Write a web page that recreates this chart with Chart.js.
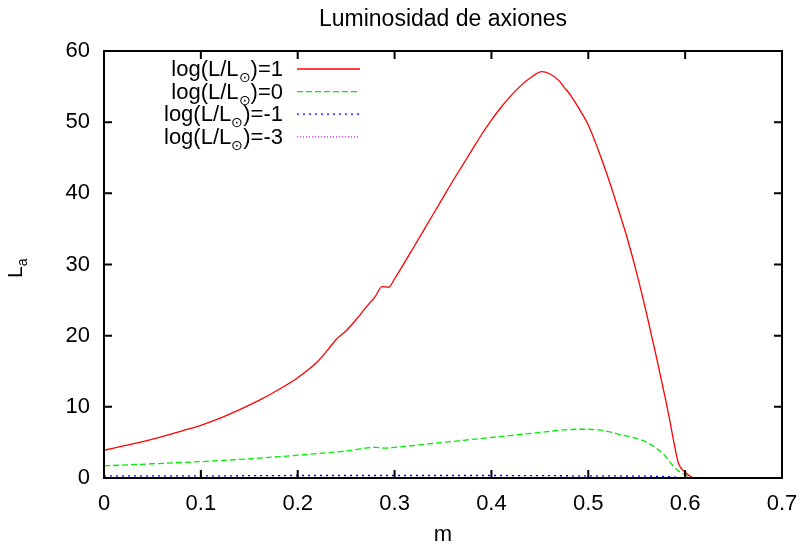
<!DOCTYPE html>
<html>
<head>
<meta charset="utf-8">
<script src="https://cdn.jsdelivr.net/npm/chart.js@4/dist/chart.umd.min.js"></script>
<style>
  body { margin: 0; background: #fff; }
  canvas { display: block; }
</style>
</head>
<body>
<canvas id="lumChart" width="803" height="546"></canvas>
<script>
// masa (m) y luminosidad de axiones (L_a) para cada log(L/Lsol)
const mLog1 = [0.00, 0.02, 0.04, 0.06, 0.08, 0.10, 0.12, 0.14, 0.16, 0.18, 0.20, 0.22, 0.231, 0.24, 0.245, 0.25, 0.26, 0.27, 0.28, 0.287, 0.294, 0.30, 0.31, 0.32, 0.33, 0.34, 0.35, 0.36, 0.37, 0.38, 0.39, 0.40, 0.41, 0.42, 0.43, 0.44, 0.452, 0.46, 0.47, 0.475, 0.48, 0.484, 0.49, 0.50, 0.51, 0.52, 0.53, 0.54, 0.55, 0.56, 0.57, 0.58, 0.584, 0.588, 0.593, 0.600, 0.607, 0.61];
const laLog1 = [3.9, 4.5, 5.1, 5.8, 6.6, 7.4, 8.4, 9.6, 10.9, 12.4, 14.1, 16.3, 18.0, 19.5, 20.1, 20.7, 22.2, 23.9, 25.5, 26.9, 26.8, 28.0, 30.2, 32.5, 34.8, 37.1, 39.4, 41.7, 43.9, 46.1, 48.3, 50.3, 52.1, 53.7, 55.1, 56.2, 57.1, 56.8, 55.8, 54.9, 54.1, 53.3, 52.0, 49.6, 46.2, 42.4, 38.2, 33.8, 28.8, 23.2, 17.2, 10.9, 8.2, 5.3, 2.1, 0.8, 0.1, 0.0];

const mLog0 = [0.00, 0.05, 0.10, 0.15, 0.20, 0.25, 0.28, 0.29, 0.30, 0.35, 0.40, 0.45, 0.47, 0.49, 0.50, 0.51, 0.52, 0.533, 0.55, 0.56, 0.57, 0.578, 0.584, 0.587, 0.593, 0.598, 0.605, 0.61];
const laLog0 = [1.7, 2.0, 2.3, 2.7, 3.2, 3.8, 4.3, 4.2, 4.3, 5.0, 5.7, 6.4, 6.7, 6.85, 6.85, 6.75, 6.55, 6.1, 5.55, 5.05, 4.2, 3.3, 2.3, 1.8, 1.0, 0.6, 0.1, 0.0];

const mLogM1 = [0.00, 0.10, 0.20, 0.30, 0.40, 0.50, 0.58, 0.60];
const laLogM1 = [0.3, 0.3, 0.35, 0.35, 0.35, 0.3, 0.2, 0.0];

const mLogM3 = [0.00, 0.20, 0.40, 0.58, 0.60];
const laLogM3 = [0.02, 0.02, 0.02, 0.01, 0.0];

const seriesNames = ['1', '0', '-1', '-3'];
const xTicks = [0, 0.1, 0.2, 0.3, 0.4, 0.5, 0.6, 0.7];
const yTicks = [0, 10, 20, 30, 40, 50, 60];

const FONT = '"Liberation Sans", Arial, Helvetica, sans-serif';
const pts = (xs, ys) => xs.map((x, i) => ({ x: x, y: ys[i] }));

const styles = [
  { color: '#ff0000', dash: [] },
  { color: '#00ee00', dash: [6, 3] },
  { color: '#0000ff', dash: [2, 4] },
  { color: '#ff00ff', dash: [1, 2] }
];
const seriesData = [pts(mLog1, laLog1), pts(mLog0, laLog0), pts(mLogM1, laLogM1), pts(mLogM3, laLogM3)];

// marco estilo gnuplot: caja, marcas hacia dentro, titulos y leyenda
const gnuFrame = {
  id: 'gnuFrame',
  afterDraw(chart) {
    const ctx = chart.ctx;
    const a = chart.chartArea;
    const xs = chart.scales.x, ys = chart.scales.y;
    ctx.save();
    ctx.strokeStyle = '#000';
    ctx.lineWidth = 2;
    ctx.setLineDash([]);
    ctx.strokeRect(a.left, a.top, a.right - a.left, a.bottom - a.top);
    const tl = 8;
    ctx.beginPath();
    xTicks.forEach(v => {
      const px = xs.getPixelForValue(v);
      ctx.moveTo(px, a.bottom); ctx.lineTo(px, a.bottom - tl);
      ctx.moveTo(px, a.top); ctx.lineTo(px, a.top + tl);
    });
    yTicks.forEach(v => {
      const py = ys.getPixelForValue(v);
      ctx.moveTo(a.left, py); ctx.lineTo(a.left + tl, py);
      ctx.moveTo(a.right, py); ctx.lineTo(a.right - tl, py);
    });
    ctx.stroke();

    ctx.fillStyle = '#000';
    ctx.font = '23px ' + FONT;
    ctx.textAlign = 'center';
    ctx.textBaseline = 'alphabetic';
    ctx.fillText('Luminosidad de axiones', (a.left + a.right) / 2, 26);
    ctx.font = '22px ' + FONT;
    ctx.fillText('m', (a.left + a.right) / 2, 541);

    // L_a girado
    ctx.save();
    ctx.translate(22, 270);
    ctx.rotate(-Math.PI / 2);
    ctx.textAlign = 'left';
    ctx.font = '21px ' + FONT;
    const wL = ctx.measureText('L').width;
    ctx.fillText('L', -8, 0);
    ctx.font = '14px ' + FONT;
    ctx.fillText('a', -8 + wL, 5);
    ctx.restore();

    // leyenda
    const rightX = 283, lineX0 = 297, lineX1 = 360;
    seriesNames.forEach((name, i) => {
      const y = 69 + i * 22.6;
      ctx.font = '22px ' + FONT;
      const p1 = 'log(L/L', p3 = ')=' + name;
      const w1 = ctx.measureText(p1).width, w3 = ctx.measureText(p3).width;
      ctx.font = '14px ' + FONT;
      const w2 = ctx.measureText('\u2299').width;
      let x = rightX - (w1 + w2 + w3);
      const base = y + 7;
      ctx.textAlign = 'left';
      ctx.font = '22px ' + FONT;
      ctx.fillText(p1, x, base); x += w1;
      ctx.font = '14px ' + FONT;
      ctx.fillText('\u2299', x, base + 6); x += w2;
      ctx.font = '22px ' + FONT;
      ctx.fillText(p3, x, base);
      ctx.strokeStyle = styles[i].color;
      ctx.lineWidth = 1.3;
      ctx.setLineDash(styles[i].dash);
      ctx.beginPath();
      ctx.moveTo(lineX0, y); ctx.lineTo(lineX1, y);
      ctx.stroke();
    });
    ctx.restore();
  }
};

new Chart(document.getElementById('lumChart'), {
  type: 'line',
  data: {
    datasets: seriesNames.map((name, i) => ({
      label: 'log(L/Lsol)=' + name,
      data: seriesData[i],
      borderColor: styles[i].color,
      borderDash: styles[i].dash,
      borderWidth: 1.3,
      pointRadius: 0,
      cubicInterpolationMode: 'monotone',
      fill: false,
      order: 4 - i
    }))
  },
  options: {
    responsive: false,
    animation: false,
    layout: { padding: { top: 51, right: 21, left: 0, bottom: 0 } },
    plugins: { legend: { display: false }, tooltip: { enabled: false }, title: { display: false } },
    scales: {
      x: {
        type: 'linear', min: 0, max: 0.7,
        grid: { display: false, drawTicks: false },
        border: { display: false },
        afterBuildTicks: s => { s.ticks = xTicks.map(v => ({ value: v })); },
        afterFit: s => { s.height = 68; s.paddingLeft = 0; s.paddingRight = 0; },
        ticks: { color: '#000', padding: 13, maxRotation: 0, autoSkip: false,
                 font: { family: FONT, size: 22 }, callback: v => String(v) }
      },
      y: {
        min: 0, max: 60,
        grid: { display: false, drawTicks: false },
        border: { display: false },
        afterBuildTicks: s => { s.ticks = yTicks.map(v => ({ value: v })); },
        afterFit: s => { s.width = 104; s.paddingTop = 0; s.paddingBottom = 0; },
        ticks: { color: '#000', padding: 14, autoSkip: false,
                 font: { family: FONT, size: 22 }, callback: v => String(v) }
      }
    }
  },
  plugins: [gnuFrame]
});
</script>
</body>
</html>
